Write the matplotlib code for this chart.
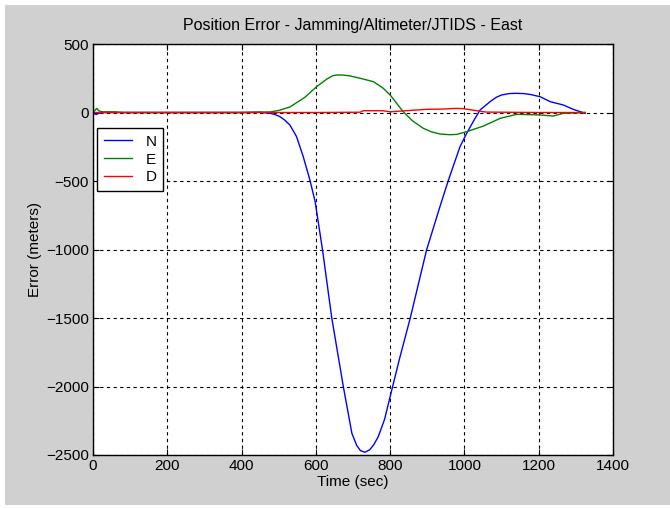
import numpy as np
import matplotlib.pyplot as plt
from matplotlib.patches import Rectangle

plt.rcParams['font.family'] = ['Liberation Sans', 'DejaVu Sans']

# N (north) position error
t_n = [0, 5, 8, 14, 20, 60, 200, 400, 450, 477, 490, 503, 516, 530, 548, 566,
       584, 598, 618, 643, 674, 697, 710, 720, 732, 745, 756, 768, 785, 800,
       825, 854, 898, 934, 957, 988, 1006, 1025, 1042, 1069, 1085, 1100, 1120,
       1140, 1160, 1177, 1204, 1231, 1266, 1293, 1325]
v_n = [0, -10, -15, -8, 0, 0, 0, 0, 2, -6, -15, -30, -55, -91, -176, -322,
       -493, -650, -1004, -1502, -2001, -2342, -2430, -2468, -2480, -2462,
       -2425, -2366, -2240, -2074, -1800, -1502, -1004, -688, -493, -250,
       -152, -60, 18, 79, 110, 128, 138, 140, 138, 132, 115, 79, 55, 23, -6]

# E (east) position error
t_e = [0, 5, 10, 16, 25, 60, 80, 200, 400, 477, 500, 530, 570, 602, 630, 645,
       656, 670, 690, 719, 755, 780, 800, 835, 860, 889, 910, 934, 960, 979,
       1006, 1051, 1096, 1141, 1204, 1239, 1266, 1325]
v_e = [0, 15, 30, 12, 5, 5, 0, 0, 0, 4, 15, 40, 110, 188, 245, 268, 274, 274,
       268, 250, 225, 180, 128, 6, -60, -115, -140, -157, -162, -160, -140,
       -99, -43, -13, -18, -26, -6, 0]

# D (down) position error
t_d = [0, 200, 400, 600, 719, 728, 780, 800, 897, 940, 979, 997, 1050,
       1060, 1200, 1325]
v_d = [0, 0, 0, 0, 2, 13, 13, 5, 23, 25, 30, 28, 6, 3, 0, 0]

fig = plt.figure(figsize=(6.7, 5.08), dpi=100, facecolor='white')
# gray window panel with a thin white border on the left/top/bottom
fig.patches.append(Rectangle((5 / 670, 3 / 508), 665 / 670, 500 / 508,
                             transform=fig.transFigure, facecolor='#d0d0d0',
                             edgecolor='none', zorder=-10))

ax = fig.add_axes([93 / 670, 53 / 508, 520 / 670, 411 / 508])
ax.set_facecolor('white')

ax.plot(t_n, v_n, color='#0000ff', linewidth=1, label='N')
ax.plot(t_e, v_e, color='#008000', linewidth=1, label='E')
ax.plot(t_d, v_d, color='#ff0000', linewidth=1, label='D')

ax.set_xlim(0, 1400)
ax.set_ylim(-2500, 500)
ax.set_xticks(np.arange(0, 1401, 200))
ax.set_yticks(np.arange(-2500, 501, 500))
ax.grid(True, color='black', linestyle=(0, (3, 3)), linewidth=0.8)
ax.tick_params(direction='in', length=4, labelsize=11, top=True, right=True,
               color='black', pad=3)
for s in ax.spines.values():
    s.set_color('black')
    s.set_linewidth(1)

ax.set_title('Position Error - Jamming/Altimeter/JTIDS - East', fontsize=11.5, pad=10)
ax.set_xlabel('Time (sec)', fontsize=11, labelpad=1)
ax.set_ylabel('Error (meters)', fontsize=11, labelpad=3)

leg = ax.legend(loc='upper left', bbox_to_anchor=(0.008, 0.796), borderaxespad=0,
                fancybox=False, framealpha=1, edgecolor='black', fontsize=11,
                handlelength=1.8, handletextpad=0.9, labelspacing=0.25,
                borderpad=0.45)
leg.get_frame().set_linewidth(1)

fig.savefig('out.png', dpi=100, facecolor=fig.get_facecolor())
